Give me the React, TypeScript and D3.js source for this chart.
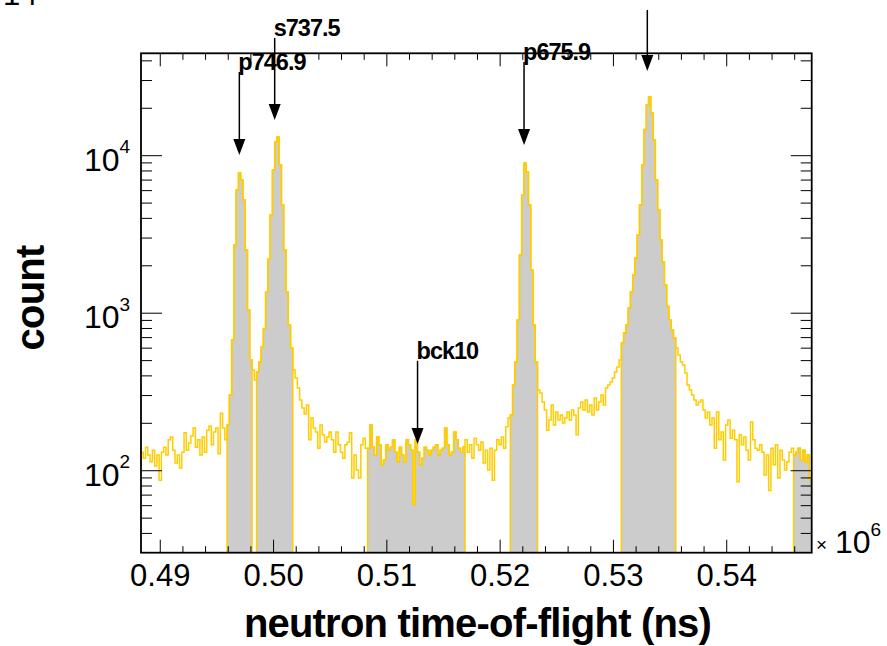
import React from "react";
import * as d3 from "d3";

// ---- histogram binning (x in units of 10^6 ns) ----
const binStart = 0.4883;
const binWidth = 0.0002;

// ---- bin contents, segment by segment ----
const countsBgLeft = [131, 120, 141, 126, 114, 135, 107, 126, 87, 131, 141, 126, 157, 164, 135, 112, 126, 104, 131, 174, 135, 150, 166, 187, 141, 157, 126, 164, 131, 181, 192, 146, 176, 187, 128, 232, 187, 157];
const countsPeakA = [195, 302, 676, 2711, 6057, 7765, 7011, 5233, 2520, 1048, 505];
const countsGapAB = [436, 377];
const countsPeakB = [423, 490, 610, 797, 1363, 2200, 4202, 8114, 12220, 13150, 8728, 4864, 2520, 1363, 842, 601];
const countsBgMid1 = [436, 388, 335, 281, 250, 229, 261, 157, 216, 187, 176, 139, 195, 169, 152, 164, 176, 157, 131, 176, 146, 131, 120, 146, 152, 174, 90, 126, 101, 90, 146, 161, 139];
const countsBck10 = [139, 195, 141, 126, 164, 146, 109, 117, 146, 135, 141, 157, 131, 114, 141, 126, 114, 157, 146, 135, 61, 157, 131, 109, 120, 141, 135, 126, 135, 141, 146, 126, 135, 139, 187, 146, 126, 131, 176, 157, 139, 131, 141];
const countsBgMid2 = [157, 131, 146, 120, 161, 146, 135, 152, 112, 135, 101, 139, 87, 135, 157, 146, 164, 139, 190, 216];
const countsPeakD = [226, 350, 490, 905, 2342, 5630, 8970, 7880, 4864, 1880, 842, 490];
const countsBgMid3 = [325, 311, 273, 243, 181, 210, 261, 195, 236, 210, 226, 201, 216, 236, 210, 243, 226, 169, 250, 273, 243, 281, 236, 261, 226, 289, 243, 273, 302, 261, 335, 350, 366, 388, 423, 455, 505];
const countsPeakE = [647, 749, 842, 1080, 1363, 1748, 2240, 3137, 4864, 8728, 14670, 20990, 23600, 18670, 12580, 7011, 4521, 2917, 2114, 1510, 1105, 905, 782, 696];
const countsBgRight = [601, 543, 490, 469, 417, 350, 325, 302, 281, 261, 273, 281, 243, 216, 236, 195, 216, 139, 236, 157, 176, 117, 195, 210, 161, 181, 157, 85, 169, 146, 164, 135, 117, 204, 157, 139, 135, 146, 131, 94, 126, 75, 139, 109, 146, 90, 135, 117, 101, 114, 131, 139];
const countsEdgeF = [126, 131, 139, 117, 135, 114, 126, 87];

// segments in order; "selected" ones are the gray-filled windows
const segmentCounts = [countsBgLeft, countsPeakA, countsGapAB, countsPeakB, countsBgMid1, countsBck10, countsBgMid2, countsPeakD, countsBgMid3, countsPeakE, countsBgRight, countsEdgeF];
const segmentSelected = [false, true, false, true, false, true, false, true, false, true, false, true];

// ---- axes ----
const xDomain = [0.4883, 0.5475];
const yDomain = [30.17, 44670];
const xTickValues = [0.49, 0.5, 0.51, 0.52, 0.53, 0.54];
const xTickLabels = ["0.49", "0.50", "0.51", "0.52", "0.53", "0.54"];
const yTickExponents = [2, 3, 4];
const xAxisTitle = "neutron time-of-flight (ns)";
const yAxisTitle = "count";
const xMultiplierExp = "6";

// ---- arrows (x, top count, tip count, label) ----
const arrowX = [0.49698, 0.5001, 0.52211, 0.53299, 0.51271];
const arrowTop = [34000, 55870, 39340, 84200, 499];
const arrowTip = [10100, 16850, 11690, 34500, 148];
const arrowLabels = ["p746.9", "s737.5", "p675.9", "", "bck10"];

const FONT = "'Liberation Sans', Arial, Helvetica, sans-serif";
const YELLOW = "#FFCC00";
const GRAY = "#CCCCCC";

export default function App() {
  const W = 887, H = 646;
  const L = 141, R = 811.7, T = 53.3, B = 552.7;
  const x = d3.scaleLinear().domain(xDomain).range([L, R]);
  const y = d3.scaleLog().domain(yDomain).range([B, T]);
  const yc = (c: number) => (c <= yDomain[0] ? B : y(c));

  // flatten bins
  const bins: { x0: number; x1: number; c: number; sel: boolean }[] = [];
  let idx = 0;
  segmentCounts.forEach((arr, s) => {
    arr.forEach((c) => {
      const x0 = binStart + idx * binWidth;
      bins.push({ x0, x1: x0 + binWidth, c, sel: segmentSelected[s] });
      idx++;
    });
  });

  // full histogram outline
  let full = "";
  bins.forEach((b, i) => {
    if (i === 0) full += `M${x(b.x0)},${yc(b.c)}`;
    else full += `V${yc(b.c)}`;
    full += `H${x(b.x1)}`;
  });

  // selection histogram outline (zero outside windows -> frame bottom)
  const firstSel = bins.findIndex((b) => b.sel);
  let selLine = `M${x(bins[firstSel].x0)},${B}`;
  for (let i = firstSel; i < bins.length; i++) {
    const b = bins[i];
    selLine += `V${b.sel ? yc(b.c) : B}H${x(b.x1)}`;
  }
  selLine += `V${B}`;

  // gray fills
  const fills: string[] = [];
  let cur = "";
  bins.forEach((b, i) => {
    if (b.sel) {
      if (!cur) cur = `M${x(b.x0)},${B}`;
      cur += `V${yc(b.c)}H${x(b.x1)}`;
    }
    if (cur && (!b.sel || i === bins.length - 1)) {
      cur += `V${B}Z`;
      fills.push(cur);
      cur = "";
    }
  });

  // x ticks
  const xTicks: { v: number; major: boolean }[] = [];
  for (let k = 244; k <= 274; k++) {
    const v = k * 0.002;
    if (v < xDomain[0] || v > xDomain[1]) continue;
    xTicks.push({ v, major: k % 5 === 0 });
  }
  // y ticks
  const yTicks: { v: number; major: boolean }[] = [];
  for (let e = 1; e <= 4; e++) {
    for (let m = 1; m <= 9; m++) {
      const v = m * Math.pow(10, e);
      if (v < yDomain[0] || v > yDomain[1]) continue;
      yTicks.push({ v, major: m === 1 });
    }
  }

  return (
    <svg width={W} height={H} style={{ position: "absolute", left: 0, top: 0, background: "#fff" }} fontFamily={FONT}>
      <defs>
        <clipPath id="plotclip">
          <rect x={L} y={T} width={R - L} height={B - T} />
        </clipPath>
      </defs>
      <rect x={0} y={0} width={W} height={H} fill="#fff" />
      <g clipPath="url(#plotclip)">
        {fills.map((d, i) => (
          <path key={i} d={d} fill={GRAY} stroke="none" />
        ))}
        <path d={full} fill="none" stroke={YELLOW} strokeWidth={1.5} />
        <path d={selLine} fill="none" stroke={YELLOW} strokeWidth={1.5} />
      </g>

      {/* frame */}
      <rect x={L} y={T} width={R - L} height={B - T} fill="none" stroke="#000" strokeWidth={1.8} />

      {/* x ticks bottom & top */}
      {xTicks.map((t, i) => {
        const px = x(t.v);
        const len = t.major ? 13 : 6.5;
        return (
          <g key={"xt" + i} stroke="#000" strokeWidth={1}>
            <line x1={px} x2={px} y1={B} y2={B - len} />
            <line x1={px} x2={px} y1={T} y2={T + len} />
          </g>
        );
      })}
      {/* y ticks left & right */}
      {yTicks.map((t, i) => {
        const py = y(t.v);
        const len = t.major ? 21 : 11;
        return (
          <g key={"yt" + i} stroke="#000" strokeWidth={1}>
            <line x1={L} x2={L + len} y1={py} y2={py} />
            <line x1={R} x2={R - len} y1={py} y2={py} />
          </g>
        );
      })}

      {/* x tick labels */}
      {xTickValues.map((v, i) => (
        <text key={"xl" + i} x={x(v)} y={585.7} fontSize={31} textAnchor="middle" fill="#000">
          {xTickLabels[i]}
        </text>
      ))}
      {/* y tick labels */}
      {yTickExponents.map((e, i) => {
        const py = y(Math.pow(10, e));
        return (
          <text key={"yl" + i} x={84} y={py + 15} fontSize={32} fill="#000">
            10
            <tspan fontSize={19} dy={-17.5}>{String(e)}</tspan>
          </text>
        );
      })}

      {/* x multiplier */}
      <text x={816} y={551} fontSize={19} fill="#000">×</text>
      <text x={835} y={553.3} fontSize={32} fill="#000">
        10
        <tspan fontSize={19} dy={-17}>{xMultiplierExp}</tspan>
      </text>

      {/* axis titles */}
      <text x={477.5} y={636.7} fontSize={40} fontWeight="bold" textAnchor="middle" letterSpacing={-0.8} fill="#000">
        {xAxisTitle}
      </text>
      <text transform={`translate(44,298) rotate(-90)`} fontSize={40} fontWeight="bold" textAnchor="middle" letterSpacing={-0.8} fill="#000">
        {yAxisTitle}
      </text>

      {/* stray label at top-left */}
      <text x={3} y={5} fontSize={31} fill="#000">14</text>

      {/* arrows */}
      {arrowX.map((ax, i) => {
        const px = x(ax);
        const yt = y(arrowTop[i]);
        const yp = y(arrowTip[i]);
        const hw = 6, hh = 16;
        return (
          <g key={"ar" + i}>
            <line x1={px} x2={px} y1={yt} y2={yp - hh + 1} stroke="#000" strokeWidth={1.5} />
            <path d={`M${px - hw},${yp - hh}L${px + hw},${yp - hh}L${px},${yp}Z`} fill="#000" />
            {arrowLabels[i] && (
              <text x={px - 1} y={yt - 1.5} fontSize={23.5} fontWeight="bold" letterSpacing={-1} fill="#000">
                {arrowLabels[i]}
              </text>
            )}
          </g>
        );
      })}
    </svg>
  );
}
